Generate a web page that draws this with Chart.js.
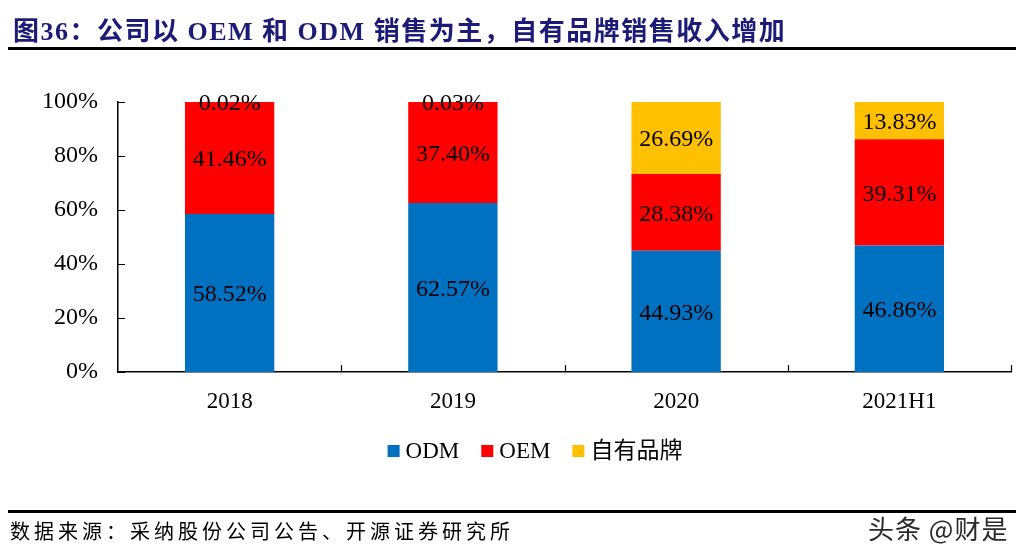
<!DOCTYPE html>
<html>
<head>
<meta charset="utf-8">
<script src="https://cdn.jsdelivr.net/npm/chart.js@4.4.0/dist/chart.umd.min.js"></script>
<style>
  html, body { margin: 0; padding: 0; background: #fff; }
  #wrap { position: relative; width: 1022px; height: 555px; overflow: hidden; background: #fff; }
  #c { position: absolute; left: 0; top: 0; }
  .title { position: absolute; left: 13px; top: 10px; font-family: 'Liberation Serif', 'Noto Sans CJK SC', serif; font-weight: bold; font-size: 26px; color: #1c1c78; white-space: nowrap; letter-spacing: 1.5px; }
  .line1 { position: absolute; left: 8px; width: 1008px; top: 47px; height: 3px; background: #000; }
  .line2 { position: absolute; left: 8px; width: 1008px; top: 510px; height: 3px; background: #000; }
  .src { position: absolute; left: 10px; top: 516px; font-family: 'Noto Sans CJK SC', sans-serif; font-size: 20px; color: #000; letter-spacing: 4px; white-space: nowrap; }
  .wm { position: absolute; left: 868px; top: 509px; font-family: 'Noto Sans CJK SC', sans-serif; font-size: 26px; color: #2a2a2a; white-space: nowrap; letter-spacing: 1px; }
</style>
</head>
<body>
<div id="wrap">
  <canvas id="c" width="1022" height="555"></canvas>
  <div class="title">图36：公司以 OEM 和 ODM 销售为主，自有品牌销售收入增加</div>
  <div class="line1"></div>
  <div class="line2"></div>
  <div class="src">数据来源：采纳股份公司公告、开源证券研究所</div>
  <div class="wm">头条 @财是</div>
</div>
<script>
const categories = ['2018', '2019', '2020', '2021H1'];
const odm = [58.52, 62.57, 44.93, 46.86];
const oem = [41.46, 37.40, 28.38, 39.31];
const ownBrand = [0.02, 0.03, 26.69, 13.83];
const yTicks = [0, 20, 40, 60, 80, 100];

const serif = "'Liberation Serif', 'Noto Sans CJK SC', serif";

const valueLabels = {
  id: 'valueLabels',
  afterDatasetsDraw(chart) {
    const ctx = chart.ctx;
    ctx.save();
    ctx.font = '24px ' + serif;
    ctx.fillStyle = '#000';
    ctx.textAlign = 'center';
    ctx.textBaseline = 'middle';
    chart.data.datasets.forEach((ds, di) => {
      const meta = chart.getDatasetMeta(di);
      meta.data.forEach((el, i) => {
        const v = ds.data[i];
        const cy = (el.y + el.base) / 2;
        ctx.fillText(v.toFixed(2) + '%', el.x, cy + 2);
      });
    });
    ctx.restore();
  }
};

const innerTicks = {
  id: 'innerTicks',
  afterDraw(chart) {
    const ctx = chart.ctx;
    const x = chart.scales.x, y = chart.scales.y;
    const a = chart.chartArea;
    ctx.save();
    ctx.strokeStyle = '#000';
    ctx.lineWidth = 1.2;
    ctx.beginPath();
    yTicks.forEach(v => {
      const py = Math.round(y.getPixelForValue(v)) + 0.5;
      ctx.moveTo(a.left, py);
      ctx.lineTo(a.left + 7, py);
    });
    const step = x.getPixelForValue(1) - x.getPixelForValue(0);
    for (let i = 1; i <= categories.length; i++) {
      const px = Math.round(x.getPixelForValue(i) - step / 2) + 0.5;
      ctx.moveTo(px, a.bottom);
      ctx.lineTo(px, a.bottom - 7);
    }
    ctx.stroke();
    ctx.restore();
  }
};

// compact legend drawn from the datasets (box close to text, centred like the original)
const compactLegend = {
  id: 'compactLegend',
  afterDraw(chart) {
    const ctx = chart.ctx;
    const box = 12, gap = 6, spacing = 22, cx = 535, cy = 451;
    ctx.save();
    ctx.font = '23px ' + serif;
    ctx.textBaseline = 'middle';
    ctx.textAlign = 'left';
    const items = chart.data.datasets.map(ds => ({
      label: ds.label, color: ds.backgroundColor, w: ctx.measureText(ds.label).width
    }));
    const total = items.reduce((s, it) => s + box + gap + it.w, 0) + spacing * (items.length - 1);
    let x = cx - total / 2;
    items.forEach(it => {
      ctx.fillStyle = it.color;
      ctx.fillRect(x, cy - box / 2, box, box);
      ctx.fillStyle = '#000';
      ctx.fillText(it.label, x + box + gap, cy + 1);
      x += box + gap + it.w + spacing;
    });
    ctx.restore();
  }
};

new Chart(document.getElementById('c'), {
  type: 'bar',
  data: {
    labels: categories,
    datasets: [
      { label: 'ODM', data: odm, backgroundColor: '#0070C0' },
      { label: 'OEM', data: oem, backgroundColor: '#FF0000' },
      { label: '自有品牌', data: ownBrand, backgroundColor: '#FFC000' }
    ]
  },
  options: {
    responsive: false,
    animation: false,
    devicePixelRatio: 1,
    layout: { padding: { left: 0, right: 11, top: 102, bottom: 131 } },
    datasets: { bar: { barPercentage: 0.4, categoryPercentage: 1.0 } },
    scales: {
      x: {
        stacked: true,
        grid: { display: false, drawTicks: false },
        border: { display: true, color: '#000', width: 1.5 },
        ticks: { color: '#000', font: { family: serif, size: 23 }, padding: 16 },
        afterFit(s) { s.height = 52; }
      },
      y: {
        stacked: true,
        min: 0, max: 100,
        grid: { display: false, drawTicks: false },
        border: { display: true, color: '#000', width: 1.5 },
        ticks: {
          stepSize: 20, color: '#000', padding: 20,
          font: { family: serif, size: 24 },
          callback: v => v + '%'
        },
        afterFit(s) { s.width = 118; }
      }
    },
    plugins: {
      legend: { display: false },
      tooltip: { enabled: false }
    }
  },
  plugins: [valueLabels, innerTicks, compactLegend]
});
</script>
</body>
</html>
